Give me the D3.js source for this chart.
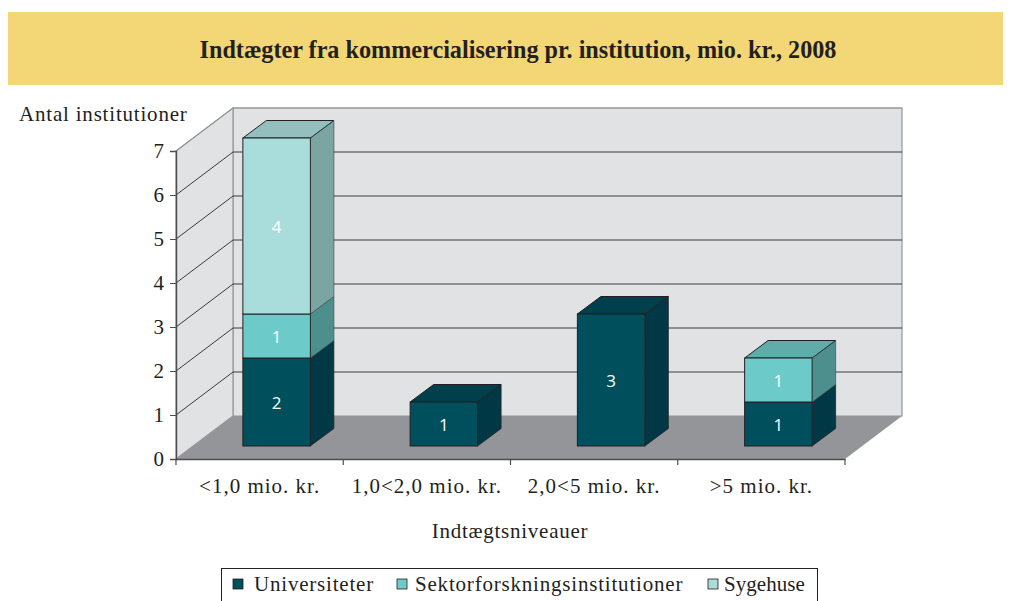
<!DOCTYPE html>
<html>
<head>
<meta charset="utf-8">
<script src="https://cdnjs.cloudflare.com/ajax/libs/d3/7.8.5/d3.min.js"></script>
<style>
html, body { margin: 0; padding: 0; background: #fff; overflow: hidden; }
text { font-family: "Liberation Serif", serif; fill: #231f20; }
</style>
</head>
<body>
<svg width="1015" height="601"></svg>
<script>
var categories = ["<1,0 mio. kr.", "1,0<2,0 mio. kr.", "2,0<5 mio. kr.", ">5 mio. kr."]
var seriesNames = ["Universiteter", "Sektorforskningsinstitutioner", "Sygehuse"]
var universiteter = [2, 1, 3, 1]
var sektorforskning = [1, 0, 0, 1]
var sygehuse = [4, 0, 0, 0]
var yTicks = [0, 1, 2, 3, 4, 5, 6, 7]

var front = ["#004f5d", "#6ccbc8", "#a9dddb"]
var side = ["#003845", "#4c8f8d", "#7ba5a3"]
var top_ = ["#003f4c", "#5fadab", "#93bfbe"]

var svg = d3.select("svg")

var xScale = d3.scaleBand().domain(categories).range([176, 845])
var yScale = d3.scaleLinear().domain([0, 7]).range([459, 151])

// depth of the fake 3d box
var depthX = 57, depthY = -43
var barDepthX = 17, barDepthY = -13, barSideX = 23.5, barSideY = -17.5
var barWidth = 67.5

function poly(g, pts, fill, stroke, sw) {
    return g.append("polygon")
        .attr("points", pts.map(function(p){ return p.join(",") }).join(" "))
        .attr("fill", fill)
        .attr("stroke", stroke || "none")
        .attr("stroke-width", sw || 0)
}

// title band
svg.append("rect").attr("x", 8).attr("y", 12).attr("width", 995).attr("height", 73).attr("fill", "#f3d675")
svg.append("text").attr("x", 518).attr("y", 58).attr("text-anchor", "middle")
    .attr("font-size", 24.2).attr("font-weight", "bold")
    .text("Indtægter fra kommercialisering pr. institution, mio. kr., 2008")

var x0 = xScale.range()[0], x1 = xScale.range()[1]
var y0 = yScale(0), y7 = yScale(7)

// walls and floor
var box = svg.append("g")
poly(box, [[x0 + depthX, y7 + depthY], [x1 + depthX, y7 + depthY], [x1 + depthX, y0 + depthY], [x0 + depthX, y0 + depthY]], "#e1e2e4", "#939598", 1.2)
poly(box, [[x0, y7], [x0 + depthX, y7 + depthY], [x0 + depthX, y0 + depthY], [x0, y0]], "#e1e2e4", "#939598", 1.2)
poly(box, [[x0, y0], [x0 + depthX, y0 + depthY], [x1 + depthX, y0 + depthY], [x1, y0]], "#939598")

// gridlines
yTicks.slice(1).forEach(function(t){
    var y = yScale(t)
    box.append("path")
        .attr("d", "M" + x0 + "," + y + "L" + (x0 + depthX) + "," + (y + depthY) + "L" + (x1 + depthX) + "," + (y + depthY))
        .attr("fill", "none")
        .attr("stroke", t == 7 ? "#939598" : "#3c3c3e")
        .attr("stroke-width", 1)
})

// axes
var axisX = svg.append("g").attr("transform", "translate(0," + y0 + ")")
    .call(d3.axisBottom(xScale).tickSize(0).tickPadding(19))
axisX.select(".domain").attr("stroke", "#4d4d4f").attr("stroke-width", 1.6)
axisX.selectAll("text").attr("font-size", 21).attr("font-family", "Liberation Serif").attr("fill", "#231f20")
    .attr("letter-spacing", 1)
xScale.domain().concat(["end"]).forEach(function(c, i){
    var x = x0 + i * xScale.bandwidth()
    axisX.append("line").attr("x1", x).attr("x2", x).attr("y1", 0).attr("y2", 6).attr("stroke", "#4d4d4f").attr("stroke-width", 1.2)
})

var axisY = svg.append("g").attr("transform", "translate(" + x0 + ",0)")
    .call(d3.axisLeft(yScale).tickValues(yTicks).tickSize(6).tickPadding(6).tickFormat(d3.format("d")))
axisY.select(".domain").attr("stroke", "#4d4d4f").attr("stroke-width", 1.4)
axisY.selectAll("line").attr("stroke", "#4d4d4f")
axisY.selectAll("text").attr("font-size", 21).attr("font-family", "Liberation Serif").attr("fill", "#231f20")

svg.append("text").attr("x", 19).attr("y", 121).attr("font-size", 21).attr("letter-spacing", 0.8).text("Antal institutioner")
svg.append("text").attr("x", 510).attr("y", 538).attr("text-anchor", "middle").attr("font-size", 21).attr("letter-spacing", 0.75).text("Indtægtsniveauer")

// stacked bars
var rows = categories.map(function(c, i){
    return { cat: c, s0: universiteter[i], s1: sektorforskning[i], s2: sygehuse[i] }
})
var stack = d3.stack().keys(["s0", "s1", "s2"])(rows)

var bars = svg.append("g")
stack.forEach(function(layer, k){
    layer.forEach(function(d){
        if (d[1] == d[0]) return
        var xl = xScale(d.data.cat) + xScale.bandwidth() / 2 + barDepthX - barWidth / 2
        var xr = xl + barWidth
        var yb = yScale(d[0]) + barDepthY
        var yt = yScale(d[1]) + barDepthY
        var total = d.data.s0 + d.data.s1 + d.data.s2
        poly(bars, [[xr, yb], [xr + barSideX, yb + barSideY], [xr + barSideX, yt + barSideY], [xr, yt]], side[k])
        if (d[1] == total) {
            poly(bars, [[xl, yt], [xl + barSideX, yt + barSideY], [xr + barSideX, yt + barSideY], [xr, yt]], top_[k], "#231f20", 1)
        }
        bars.append("rect").attr("x", xl).attr("y", yt).attr("width", barWidth).attr("height", yb - yt)
            .attr("fill", front[k]).attr("stroke", "#231f20").attr("stroke-width", 1)
        bars.append("path")
            .attr("d", "M" + xr + "," + yt + "L" + (xr + barSideX) + "," + (yt + barSideY) + "L" + (xr + barSideX) + "," + (yb + barSideY) + "L" + xr + "," + yb)
            .attr("fill", "none").attr("stroke", k == 0 ? "#231f20" : "#3c4f50").attr("stroke-width", 0.7)
        bars.append("text").attr("x", (xl + xr) / 2).attr("y", (yt + yb) / 2 + 7)
            .attr("text-anchor", "middle").attr("font-size", 17)
            .style("font-family", "'Open Sans', sans-serif").style("fill", "#fff")
            .text(d[1] - d[0])
    })
})

// legend, cut off by the bottom of the picture like the reference
var legend = svg.append("g")
legend.append("rect").attr("x", 221.5).attr("y", 568.5).attr("width", 596).attr("height", 40)
    .attr("fill", "#fff").attr("stroke", "#231f20").attr("stroke-width", 1)
var legendX = [233, 397, 708]
var legendLabelX = [254, 415, 724]
var legendSpacing = [0.8, 0.8, 0.05]
seriesNames.forEach(function(name, i){
    legend.append("rect").attr("x", legendX[i]).attr("y", 579).attr("width", 10).attr("height", 10)
        .attr("fill", front[i]).attr("stroke", "#231f20").attr("stroke-width", 0.8)
    legend.append("text").attr("x", legendLabelX[i]).attr("y", 591).attr("font-size", 21).attr("letter-spacing", legendSpacing[i]).text(name)
})
</script>
</body>
</html>
